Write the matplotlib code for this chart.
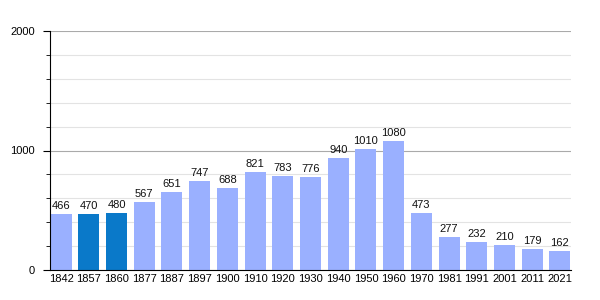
import matplotlib
matplotlib.use("Agg")
from matplotlib import pyplot as plt
from matplotlib.ticker import MultipleLocator

years = ["1842", "1857", "1860", "1877", "1887", "1897", "1900", "1910", "1920", "1930",
         "1940", "1950", "1960", "1970", "1981", "1991", "2001", "2011", "2021"]
population = [466, 470, 480, 567, 651, 747, 688, 821, 783, 776,
              940, 1010, 1080, 473, 277, 232, 210, 179, 162]
highlighted = ["1857", "1860"]

plt.rcParams['font.family'] = ['Liberation Sans', 'DejaVu Sans']

fig = plt.figure(figsize=(6, 3), dpi=100)
ax = fig.add_axes([50/600, 0.1, 521/600, 239/300])

colors = ["#0a79c9" if y in highlighted else "#9ab0ff" for y in years]
x = range(len(years))
bars = ax.bar(x, population, width=0.76, color=colors, zorder=2)
for xi, v in zip(x, population):
    ax.text(xi, v + 25, str(v), ha="center", va="bottom", fontsize=8, color="#111111")

ax.set_xlim(-0.4, len(years) - 0.6)
ax.set_ylim(0, 2000)
ax.set_xticks(list(x))
ax.set_xticklabels(years)
ax.yaxis.set_major_locator(MultipleLocator(1000))
ax.yaxis.set_minor_locator(MultipleLocator(200))
ax.grid(axis="y", which="major", color="#aaaaaa", linewidth=0.8, zorder=0)
ax.grid(axis="y", which="minor", color="#e3e3e3", linewidth=0.8, zorder=0)
for s in ["top", "right"]:
    ax.spines[s].set_visible(False)
ax.spines["left"].set_color("black")
ax.spines["bottom"].set_color("black")
ax.tick_params(axis="x", length=0, labelsize=8, pad=3)
ax.tick_params(axis="y", which="major", length=5, labelsize=8, pad=6)
ax.tick_params(axis="y", which="minor", length=3)

fig.savefig("out.png")
